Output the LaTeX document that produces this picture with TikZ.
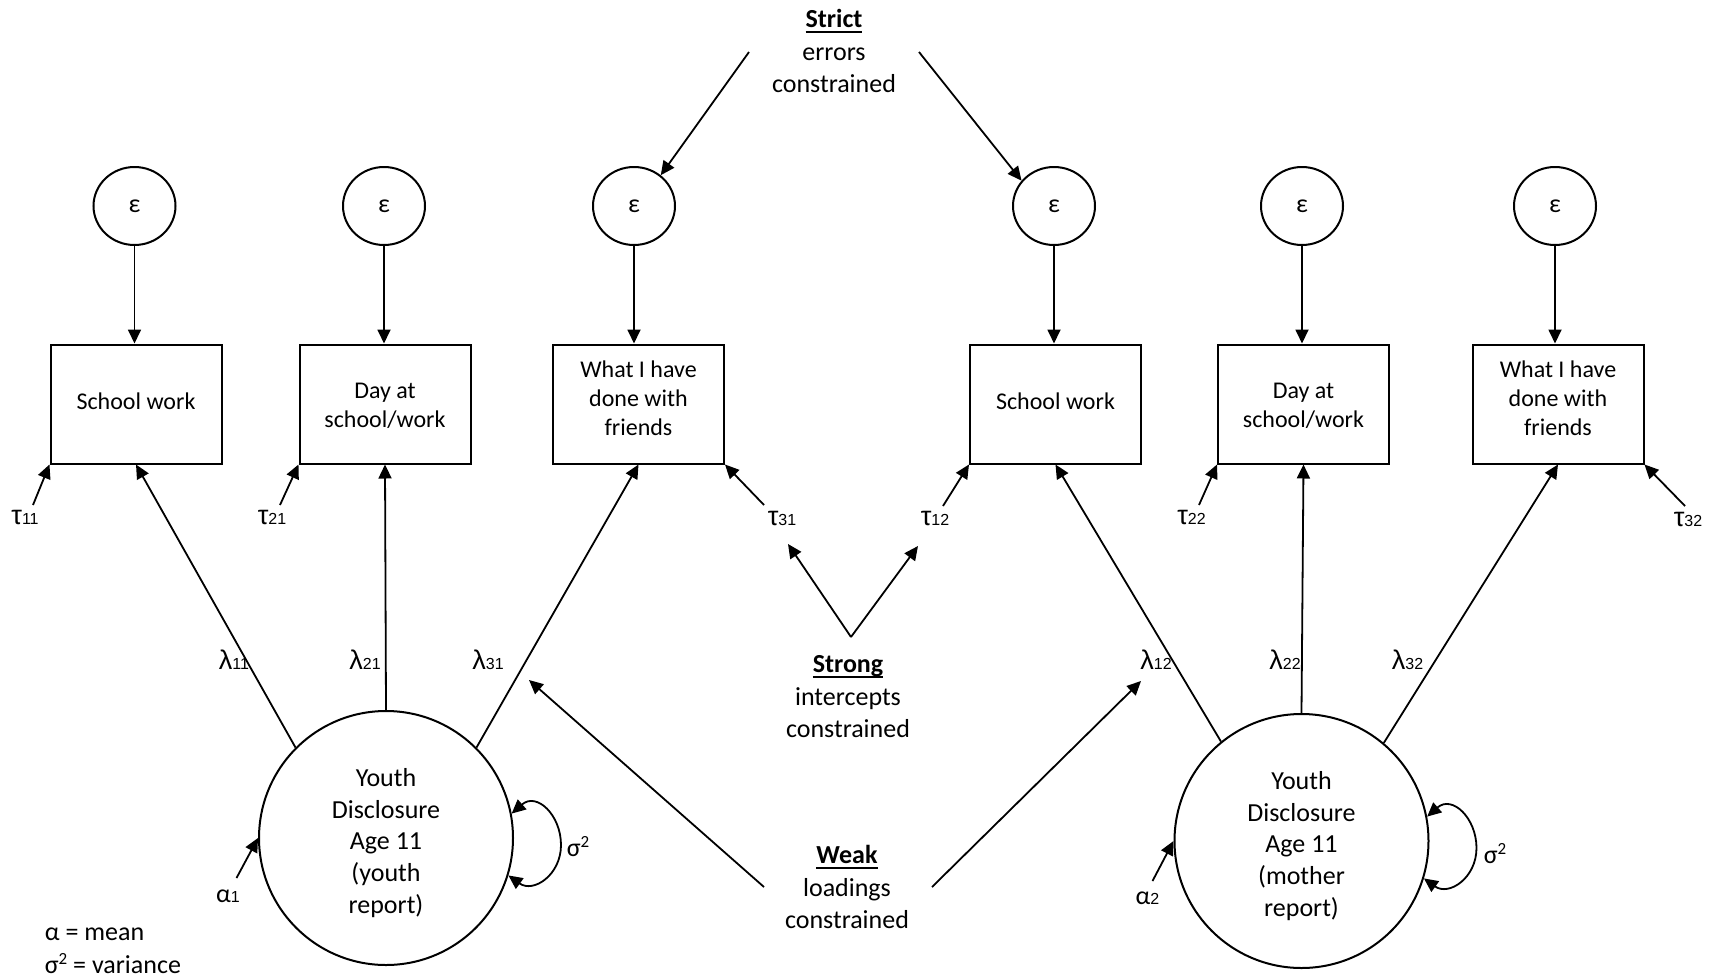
\documentclass[tikz,border=0pt]{standalone}
\usepackage{fontspec}
\setmainfont{Carlito}
\newfontfamily\arialf{Liberation Sans}
\usetikzlibrary{arrows.meta,shapes.geometric}
\newcommand{\glab}[2]{{\arialf\fontsize{27}{27}\selectfont #1\fontsize{16}{16}\selectfont #2}}
\newcommand{\ulw}[1]{\setbox0\hbox{#1}\rlap{\rule[-5pt]{\wd0}{1.8pt}}\box0}
\newcommand{\sqd}{\raisebox{9pt}{\fontsize{17}{17}\selectfont 2}}
\begin{document}
\begin{tikzpicture}[x=1pt,y=-1pt,
  line width=1.8pt,
  arr/.style={-{Triangle[length=14pt,width=13pt]}},
  arrs/.style={{Triangle[length=14pt,width=13pt]}-{Triangle[length=14pt,width=13pt]}},
  obs/.style={draw,line width=2pt,minimum width=171pt,minimum height=119pt,inner sep=0pt,align=center,font=\fontsize{24}{29}\selectfont},
  err/.style={draw,ellipse,line width=2pt,minimum width=82pt,minimum height=78pt,inner sep=0pt,font=\fontsize{26}{30}\selectfont},
  lat/.style={draw,circle,line width=2pt,minimum size=254pt,inner sep=0pt},
  lattxt/.style={align=center,inner sep=0pt,font=\fontsize{26}{31.7}\selectfont},
  big/.style={align=center,inner sep=0pt,font=\fontsize{26}{32.5}\selectfont},
  lbl/.style={inner sep=0pt,font=\fontsize{26}{30}\selectfont}
]
\useasboundingbox (0,0) rectangle (1717,980);

% error terms
\node[err] (e1) at (134.5,206) {ε};
\node[err] (e2) at (384,206) {ε};
\node[err] (e3) at (634,206) {ε};
\node[err] (e4) at (1054,206) {ε};
\node[err] (e5) at (1302,206) {ε};
\node[err] (e6) at (1555,206) {ε};

% observed indicators
\node[obs] (b1) at (136,404) {School work\rule[-6.6pt]{0pt}{0pt}};
\node[obs] (b2) at (385,404) {\rule{0pt}{20pt}Day at\\school/work};
\node[obs] (b3) at (638.5,404) {What I have\\done with\\friends\rule[-11pt]{0pt}{0pt}};
\node[obs] (b4) at (1055.5,404) {School work\rule[-6.6pt]{0pt}{0pt}};
\node[obs] (b5) at (1303.5,404) {\rule{0pt}{20pt}Day at\\school/work};
\node[obs] (b6) at (1558,404) {What I have\\done with\\friends\rule[-11pt]{0pt}{0pt}};

\foreach \i in {1,...,6} {\draw[arr] (e\i) -- (e\i |- b\i.north);}

% latent factors
\node[lat] (L) at (386,838) {};
\node[lattxt] (Ltxt) at (386,843) {Youth\\Disclosure\\Age 11\\(youth\\report)};
\node[lat] (R) at (1301.5,841) {};
\node[lattxt] (Rtxt) at (1301.5,846) {Youth\\Disclosure\\Age 11\\(mother\\report)};

% loadings
\draw[arr] (L.135) -- (b1.south);
\draw[arr] (L.90) -- (b2.south);
\draw[arr] (L.45) -- (b3.south);
\draw[arr] (R.129) -- (b4.south);
\draw[arr] (R.90) -- (b5.south);
\draw[arr] (R.50) -- (b6.south);

\node[lbl,anchor=base] (l11) at (234,669) {\glab{λ}{11}};
\node[lbl,anchor=base] (l21) at (365,669) {\glab{λ}{21}};
\node[lbl,anchor=base] (l31) at (488,669) {\glab{λ}{31}};
\node[lbl,anchor=base] (l12) at (1156,669) {\glab{λ}{12}};
\node[lbl,anchor=base] (l22) at (1285,669) {\glab{λ}{22}};
\node[lbl,anchor=base] (l32) at (1407.5,669) {\glab{λ}{32}};

% intercepts
\node[lbl,anchor=base] (t11) at (25,524) {\glab{τ}{11}};
\node[lbl,anchor=base] (t21) at (272,524) {\glab{τ}{21}};
\node[lbl,anchor=base] (t31) at (782,525) {\glab{τ}{31}};
\node[lbl,anchor=base] (t12) at (935,525) {\glab{τ}{12}};
\node[lbl,anchor=base] (t22) at (1191.5,524) {\glab{τ}{22}};
\node[lbl,anchor=base] (t32) at (1688,526) {\glab{τ}{32}};
\coordinate (t11s) at (33,505);
\coordinate (t21s) at (280,505);
\coordinate (t31s) at (764,505);
\coordinate (t12s) at (943,506);
\coordinate (t22s) at (1199,505);
\coordinate (t32s) at (1685,506);
\draw[arr] (t11s) -- (b1.south west);
\draw[arr] (t21s) -- (b2.south west);
\draw[arr] (t31s) -- (b3.south east);
\draw[arr] (t12s) -- (b4.south west);
\draw[arr] (t22s) -- (b5.south west);
\draw[arr] (t32s) -- (b6.south east);

% means
\coordinate (a1s) at (236.5,878);
\coordinate (a2s) at (1152.5,881);
\draw[arr] (a1s) -- (L.180);
\draw[arr] (a2s) -- (R.180);
\node[lbl] (a1) at (228,896) {α{\arialf\fontsize{16}{16}\selectfont 1}};
\node[lbl] (a2) at (1147.5,898) {α{\arialf\fontsize{16}{16}\selectfont 2}};

% variances
\coordinate (Lm) at (561,845);
\coordinate (Rm) at (1476.5,848);
\draw[arrs] (L.11) .. controls +(25,-22) and +(0,-30) .. (Lm) .. controls +(0,30) and +(25,18) .. (L.-17);
\draw[arrs] (R.11) .. controls +(25,-22) and +(0,-30) .. (Rm) .. controls +(0,30) and +(25,18) .. (R.-17);
\node[lbl] (v1) at (578,847) {σ\sqd};
\node[lbl] (v2) at (1495,854) {σ\sqd};

% Strict
\node[big] (strict) at (834,51) {\ulw{\textbf{Strict}}\\errors\\constrained};
\coordinate (st1) at (749,52);
\coordinate (st2) at (919,52);
\draw[arr] (st1) -- (e3.49);
\draw[arr] (st2) -- (e4.142);

% Strong
\node[big] (strong) at (848,697) {\ulw{\textbf{Strong}}\\intercepts\\constrained};
\coordinate (sa) at (851,637);
\coordinate (sl) at (788,544);
\coordinate (sr) at (918,546);
\draw[arr] (sa) -- (sl);
\draw[arr] (sa) -- (sr);

% Weak
\node[big] (weak) at (847,887) {\ulw{\textbf{Weak}}\\loadings\\constrained};
\coordinate (wl) at (764,887);
\coordinate (wlh) at (529,680);
\coordinate (wr) at (932,887);
\coordinate (wrh) at (1141,681);
\draw[arr] (wl) -- (wlh);
\draw[arr] (wr) -- (wrh);

% legend
\node[lbl,anchor=base west] (leg1) at (44,940) {α = mean};
\node[lbl,anchor=base west] (leg2) at (44,973) {σ\sqd{} = variance};
\end{tikzpicture}
\end{document}
